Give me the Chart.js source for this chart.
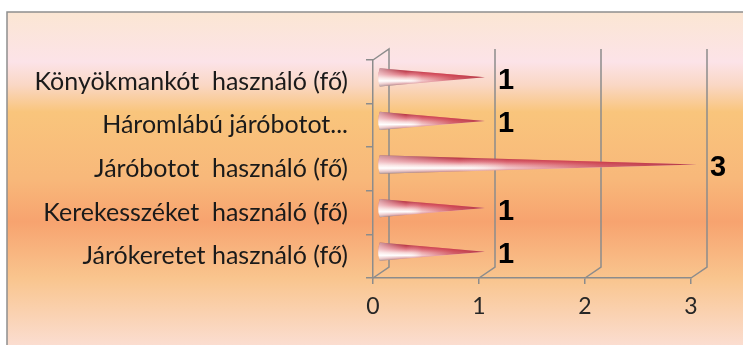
<!DOCTYPE html>
<html>
<head>
<meta charset="utf-8">
<script src="https://cdn.jsdelivr.net/npm/chart.js@4"></script>
<style>
  html, body { margin: 0; padding: 0; background: #fff; }
  #wrap { width: 743px; height: 345px; position: relative; }
</style>
</head>
<body>
<div id="wrap"><canvas id="c"></canvas></div>
<script>
// categories top to bottom, values (fő)
const labels = [
  'Könyökmankót  használó (fő)',
  'Háromlábú járóbotot...',
  'Járóbotot  használó (fő)',
  'Kerekesszéket  használó (fő)',
  'Járókeretet használó (fő)'
];
const values = [1, 1, 3, 1, 1];
const xTicks = [0, 1, 2, 3];

const DX = 16, DY = 11;   // 3d depth offset
const GRID = '#8c8c8c';

// background box with the orange/pink gradient
const bgPlugin = {
  id: 'bg',
  beforeDraw(chart) {
    const ctx = chart.ctx;
    const W = chart.width, H = chart.height;
    ctx.save();
    ctx.fillStyle = '#fff';
    ctx.fillRect(0, 0, W, H);
    const g = ctx.createLinearGradient(0, 12, 0, H);
    g.addColorStop(0.00, '#fbe6d3');
    g.addColorStop(0.15, '#fce3e8');
    g.addColorStop(0.22, '#fad7c4');
    g.addColorStop(0.30, '#f9c57c');
    g.addColorStop(0.50, '#f8b87a');
    g.addColorStop(0.63, '#f7a36f');
    g.addColorStop(0.80, '#f9c58e');
    g.addColorStop(1.00, '#fbddd0');
    ctx.fillStyle = g;
    ctx.fillRect(7, 12, W, H);
    ctx.strokeStyle = '#8f8f8f';
    ctx.lineWidth = 1.5;
    ctx.beginPath();
    ctx.moveTo(7, H + 2);
    ctx.lineTo(7, 12);
    ctx.lineTo(W + 2, 12);
    ctx.stroke();
    ctx.restore();
  }
};

// 3d walls: back gridlines + left wall from the scales
const wallPlugin = {
  id: 'walls',
  beforeDatasetsDraw(chart) {
    const ctx = chart.ctx;
    const xs = chart.scales.x, ys = chart.scales.y;
    const top = ys.top, bottom = ys.bottom;
    ctx.save();
    ctx.strokeStyle = GRID;
    ctx.lineWidth = 1.5;
    xTicks.forEach(v => {
      const px = xs.getPixelForValue(v);
      ctx.beginPath();
      ctx.moveTo(px, bottom);
      ctx.lineTo(px + DX, bottom - DY);
      ctx.lineTo(px + DX, top - DY);
      if (v === 0) ctx.lineTo(px, top);
      ctx.stroke();
    });
    ctx.restore();
  }
};

function drawCone(ctx, x0, x1, yc, h) {
  ctx.save();
  ctx.beginPath();
  ctx.moveTo(x0, yc - h / 2);
  ctx.lineTo(x1, yc);
  ctx.lineTo(x0, yc + h / 2);
  ctx.quadraticCurveTo(x0 - 3, yc, x0, yc - h / 2);
  ctx.closePath();
  const g = ctx.createLinearGradient(0, yc - h / 2, 0, yc + h / 2);
  g.addColorStop(0.00, '#861c2c');
  g.addColorStop(0.14, '#b83444');
  g.addColorStop(0.35, '#df7480');
  g.addColorStop(0.55, '#f6d2d2');
  g.addColorStop(0.70, '#ffffff');
  g.addColorStop(0.86, '#dc9ea2');
  g.addColorStop(1.00, '#643840');
  ctx.fillStyle = g;
  ctx.fill();
  ctx.clip();
  const hg = ctx.createLinearGradient(x0, 0, x1, 0);
  hg.addColorStop(0.00, 'rgba(255,255,255,0.55)');
  hg.addColorStop(0.25, 'rgba(255,255,255,0.0)');
  hg.addColorStop(0.40, 'rgba(205,45,60,0.25)');
  hg.addColorStop(0.70, 'rgba(195,40,55,0.7)');
  hg.addColorStop(1.00, 'rgba(170,35,50,0.85)');
  ctx.fillStyle = hg;
  ctx.fillRect(x0 - 4, yc - h, x1 - x0 + 8, 2 * h);
  ctx.restore();
}

const conePlugin = {
  id: 'cones',
  afterDatasetsDraw(chart) {
    const ctx = chart.ctx;
    const meta = chart.getDatasetMeta(0);
    meta.data.forEach((bar, i) => {
      const off = DX / 2 - 2;
      const yc = bar.y - DY / 2 + 1;
      drawCone(ctx, bar.base + off, bar.x + off, yc, bar.height);
      ctx.save();
      ctx.fillStyle = '#000';
      ctx.font = 'bold 29px "Liberation Sans", Arial, sans-serif';
      ctx.textAlign = 'left';
      ctx.textBaseline = 'middle';
      ctx.fillText(String(values[i]), bar.x + 19, bar.y - 1);
      ctx.restore();
    });
  }
};

new Chart(document.getElementById('c'), {
  type: 'bar',
  data: {
    labels: labels,
    datasets: [{
      data: values,
      backgroundColor: 'rgba(0,0,0,0)',
      borderWidth: 0,
      barPercentage: 0.42,
      categoryPercentage: 1
    }]
  },
  plugins: [bgPlugin, wallPlugin, conePlugin],
  options: {
    indexAxis: 'y',
    responsive: true,
    maintainAspectRatio: false,
    animation: false,
    layout: { padding: { top: 60, right: 52, left: 0, bottom: 0 } },
    plugins: {
      legend: { display: false },
      tooltip: { enabled: false }
    },
    scales: {
      x: {
        min: 0,
        max: 3,
        afterBuildTicks: s => { s.ticks = xTicks.map(v => ({ value: v })); },
        afterFit: s => { s.height = 67; },
        border: { display: true, color: GRID, width: 1.5 },
        grid: { drawOnChartArea: false, drawTicks: true, tickLength: 6, color: GRID, lineWidth: 1.5 },
        ticks: {
          padding: 9,
          color: '#262626',
          font: { family: 'Lato, "Open Sans", sans-serif', size: 23 }
        }
      },
      y: {
        afterFit: s => { s.width = 373; },
        border: { display: true, color: GRID, width: 1.5 },
        grid: { drawOnChartArea: false, drawTicks: true, tickLength: 7, color: GRID, lineWidth: 1.5, offset: true },
        ticks: {
          padding: 18,
          color: '#1a1a1a',
          font: { family: 'Lato, "Open Sans", sans-serif', size: 25 }
        }
      }
    }
  }
});
</script>
</body>
</html>
